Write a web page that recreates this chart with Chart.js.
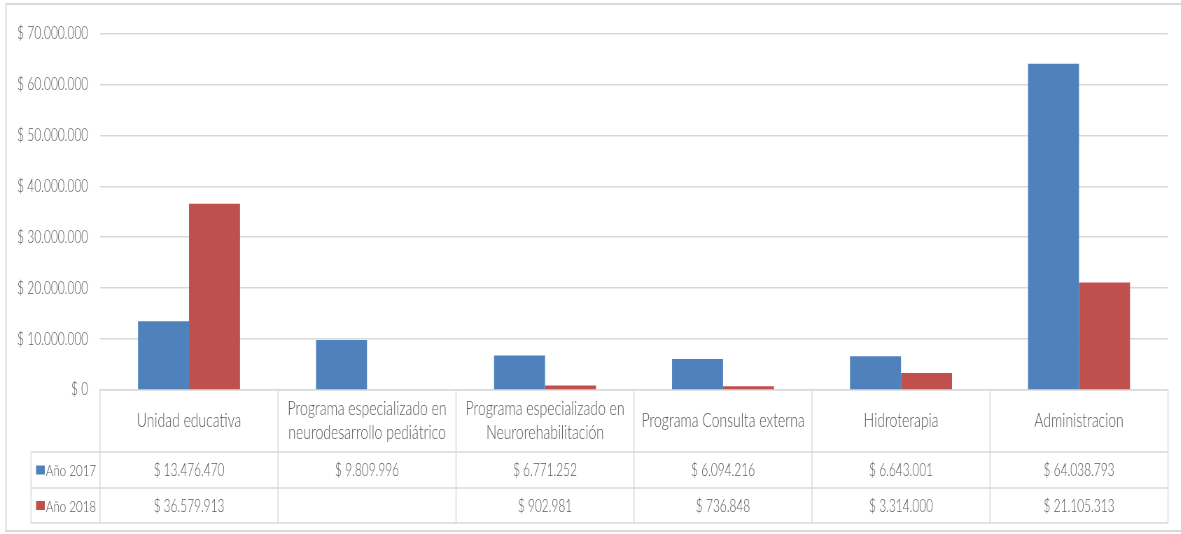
<!DOCTYPE html>
<html>
<head>
<meta charset="utf-8">
<script src="https://cdn.jsdelivr.net/npm/chart.js@4.4.0/dist/chart.umd.min.js"></script>
<style>
  html, body { margin: 0; padding: 0; background: #fff; overflow: hidden; }
  #wrap { width: 1687px; height: 534px; transform: scaleX(0.7); transform-origin: 0 0; }
</style>
</head>
<body>
<div id="wrap"><canvas id="costos-chart" width="1687" height="534"></canvas></div>
<script>
var categories = [
  ['Unidad educativa'],
  ['Programa especializado en', 'neurodesarrollo pediátrico'],
  ['Programa especializado en', 'Neurorehabilitación'],
  ['Programa Consulta externa'],
  ['Hidroterapia'],
  ['Administracion']
];
var seriesNames = ['Año 2017', 'Año 2018'];
var values2017 = [13476470, 9809996, 6771252, 6094216, 6643001, 64038793];
var values2018 = [36579913, null, 902981, 736848, 3314000, 21105313];

var textColor = '#595959';
var lineColor = '#d9d9d9';
var fontName = "Lato, 'Open Sans', sans-serif";

function pesos(n) {
  return '$ ' + String(Math.round(n)).replace(/\B(?=(\d{3})+(?!\d))/g, '.');
}

// data table under the plot, like Excel's "data table" option
var dataTable = {
  id: 'dataTable',
  afterDraw: function(chart) {
    var ctx = chart.ctx;
    var x = chart.scales.x;
    var area = chart.chartArea;
    var n = categories.length;
    var step = (area.right - area.left) / n;
    var top = area.bottom;
    var headH = 62, rowH = 36;
    var legendLeft = 44.3;
    var y1 = top + headH, y2 = y1 + rowH, y3 = y2 + 35;

    ctx.save();
    ctx.strokeStyle = lineColor;
    ctx.lineWidth = 1.5;
    ctx.beginPath();
    for (var i = 0; i <= n; i++) {
      var bx = area.left + step * i;
      ctx.moveTo(bx, top); ctx.lineTo(bx, y3);
    }
    ctx.moveTo(legendLeft, y1); ctx.lineTo(legendLeft, y3);
    [y1, y2, y3].forEach(function(yy) {
      ctx.moveTo(legendLeft, yy); ctx.lineTo(area.right, yy);
    });
    ctx.stroke();

    // outer frame
    ctx.lineWidth = 2;
    ctx.strokeRect(8.5, 4, 1720, 527);

    ctx.fillStyle = textColor;
    ctx.textAlign = 'center';
    ctx.textBaseline = 'middle';
    ctx.font = '300 20px ' + fontName;
    categories.forEach(function(lines, i) {
      var cx = x.getPixelForValue(i);
      var cy = top + headH / 2;
      var lh = 24;
      lines.forEach(function(t, k) {
        ctx.fillText(t, cx, cy + (k - (lines.length - 1) / 2) * lh);
      });
    });

    var rows = [values2017, values2018];
    ctx.font = '300 17px ' + fontName;
    rows.forEach(function(vals, r) {
      var cy = (r === 0 ? y1 + y2 : y2 + y3) / 2;
      vals.forEach(function(v, i) {
        if (v === null) return;
        ctx.fillText(pesos(v), x.getPixelForValue(i), cy + 1);
      });
    });

    ctx.textAlign = 'left';
    ctx.font = '300 16.5px ' + fontName;
    rows.forEach(function(vals, r) {
      var cy = (r === 0 ? y1 + y2 : y2 + y3) / 2;
      ctx.fillStyle = chart.data.datasets[r].backgroundColor;
      ctx.fillRect(51.5, cy - 4.5, 12.5, 9);
      ctx.fillStyle = textColor;
      ctx.fillText(seriesNames[r], 65.5, cy + 1);
    });
    ctx.restore();
  }
};

var costosChart = new Chart(document.getElementById('costos-chart').getContext('2d'), {
  type: 'bar',
  data: {
    labels: categories,
    datasets: [
      { label: seriesNames[0], data: values2017, backgroundColor: '#4f81bd' },
      { label: seriesNames[1], data: values2018, backgroundColor: '#c0504d' }
    ]
  },
  options: {
    responsive: false,
    animation: false,
    devicePixelRatio: 1,
    categoryPercentage: 0.573,
    barPercentage: 1,
    layout: {
      padding: { top: 33.5, right: 18.4, bottom: 136, left: 0 }
    },
    plugins: {
      legend: { display: false },
      tooltip: { enabled: false }
    },
    scales: {
      x: {
        ticks: { display: false },
        grid: { display: false },
        border: { display: true, color: lineColor, width: 1.5 }
      },
      y: {
        min: 0,
        max: 70000000,
        afterFit: function(scale) { scale.width = 142.9; },
        ticks: {
          stepSize: 10000000,
          padding: 17,
          color: textColor,
          font: { family: fontName, size: 17, weight: '300' },
          callback: function(v) { return pesos(v); }
        },
        grid: { color: lineColor, lineWidth: 1.5, drawTicks: false },
        border: { display: false }
      }
    }
  },
  plugins: [dataTable]
});
</script>
</body>
</html>
